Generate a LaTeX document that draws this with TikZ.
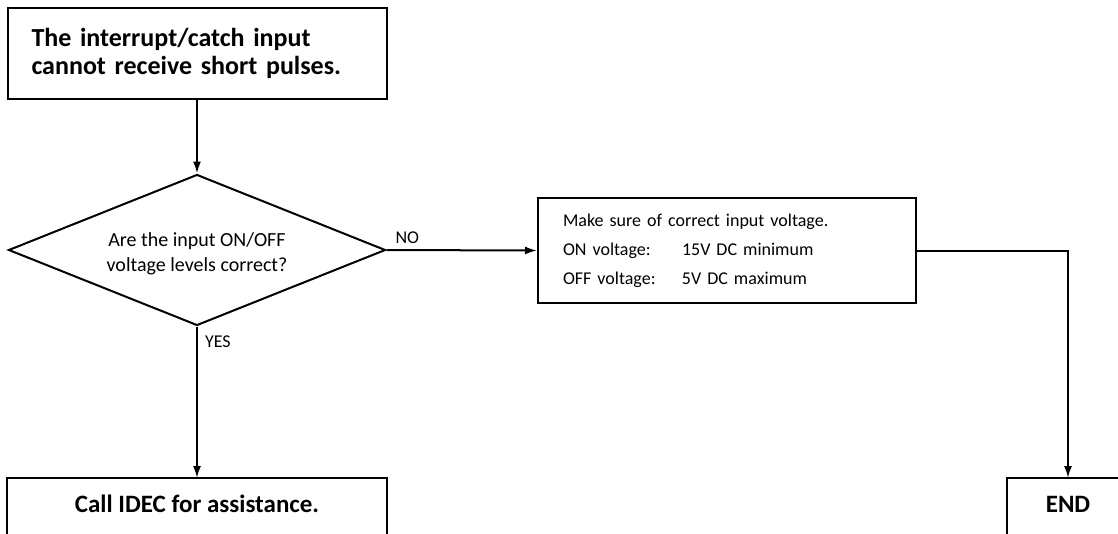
\documentclass[tikz,border=0pt]{standalone}
\usepackage{fontspec}
\setmainfont{Carlito}
\usetikzlibrary{arrows.meta,shapes.geometric}
\begin{document}
\begin{tikzpicture}[x=1pt,y=-1pt,
  lw/.style={line width=2pt},
  box/.style={draw,lw,inner sep=0pt},
  conn/.style={lw,-{Latex[length=12pt,width=8pt]}},
  head/.style={font=\bfseries\fontsize{26}{28}\selectfont},
  big/.style={font=\bfseries\fontsize{25}{28}\selectfont},
  lab/.style={font=\fontsize{18}{22}\selectfont}]
\useasboundingbox (0,0) rectangle (1118,533);
\begin{scope}
\clip (0,0) rectangle (1118,533);
\node[box,head,minimum width=379pt,minimum height=91pt,text width=331pt,align=left,inner xsep=24pt] (start) at (197,53.5)
  {The interrupt/catch input\\cannot receive short pulses.};
\node[draw,lw,diamond,shape aspect=2.497,minimum width=377pt,minimum height=151pt,inner sep=0pt,
  label={[name=dectext,align=center,font=\fontsize{20}{25}\selectfont,yshift=-4pt]center:Are the input ON/OFF\\voltage levels correct?}] (dec) at (197,250) {};
\node[box,minimum width=378pt,minimum height=105pt,text width=328pt,inner xsep=25pt,align=left,font=\fontsize{18}{29}\selectfont] (chk) at (727,250.5)
  {Make sure of correct input voltage.\\\makebox[119pt][l]{ON voltage:}15V DC minimum\\\makebox[119pt][l]{OFF voltage:}5V DC maximum};
\node[big,minimum width=379pt,minimum height=52pt,inner sep=0pt,anchor=north] (call) at (197,478) {Call IDEC for assistance.};
\node[big,minimum width=122pt,minimum height=52pt,inner sep=0pt,anchor=north] (end) at (1068,478) {END};
\draw[lw] ([yshift=-30pt]call.south west) -- (call.north west) -- (call.north east) -- ([yshift=-30pt]call.south east);
\draw[lw] ([yshift=-30pt]end.south west) -- (end.north west) -- (end.north east) -- ([yshift=-30pt]end.south east);
\draw[conn] (start) -- (dec);
\draw[conn] (dec.east) -- node[lab,pos=0.02,anchor=south west,inner sep=5pt] (no) {NO} (chk.west);
\draw[conn] (dec.south) -- node[lab,pos=0.1,anchor=west,inner sep=7pt] (yes) {YES} (call.north);
\draw[conn] (chk.east) -| (end.north);
\end{scope}
\end{tikzpicture}
\end{document}
